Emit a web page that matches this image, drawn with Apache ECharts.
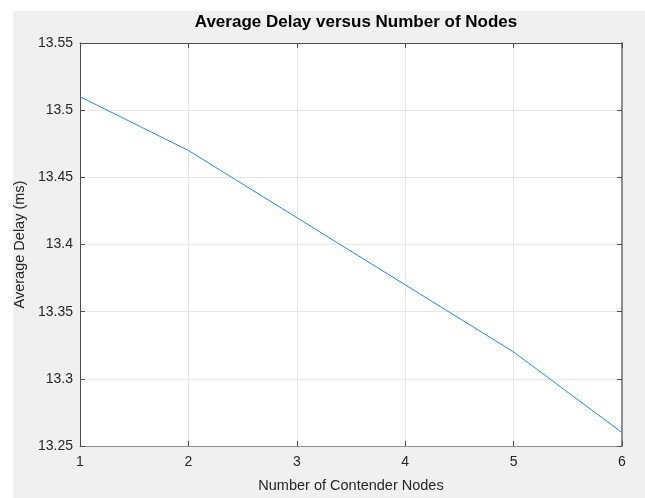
<!DOCTYPE html>
<html>
<head>
<meta charset="utf-8">
<script src="https://cdn.jsdelivr.net/npm/echarts@6/dist/echarts.min.js"></script>
<style>
  html, body { margin: 0; padding: 0; background: #ffffff; }
  #chart { width: 645px; height: 498px; }
</style>
</head>
<body>
<div id="chart"></div>
<script>
// Contender node counts and the measured average delay (ms)
const nodes = [1, 2, 3, 4, 5, 6];
const avgDelay = [13.51, 13.47, 13.42, 13.37, 13.32, 13.26];
const yTicks = [13.25, 13.3, 13.35, 13.4, 13.45, 13.5, 13.55];

const textColor = '#262626';
const fontFamily = 'Arial, "Liberation Sans", Helvetica, sans-serif';

const chart = echarts.init(document.getElementById('chart'), null, { renderer: 'canvas' });

const fmtY = v => String(parseFloat(v.toFixed(2)));

chart.setOption({
  backgroundColor: '#ffffff',
  animation: false,
  graphic: [{
    type: 'rect',
    z: -10,
    silent: true,
    shape: { x: 13, y: 11, width: 632, height: 487 },
    style: { fill: '#f0f0f0' }
  }],
  title: {
    text: 'Average Delay versus Number of Nodes',
    left: 351,
    top: 9,
    textAlign: 'center',
    textStyle: { fontFamily, fontSize: 17, fontWeight: 'bold', color: '#000000' }
  },
  grid: { left: 80, right: 23, top: 43, bottom: 44, backgroundColor: '#ffffff', show: true, borderWidth: 0 },
  xAxis: [{
    type: 'value',
    min: nodes[0],
    max: nodes[nodes.length - 1],
    interval: 1,
    name: 'Number of Contender Nodes',
    nameLocation: 'middle',
    nameGap: 32,
    nameTextStyle: { fontFamily, fontSize: 14.5, color: textColor },
    axisLine: { show: true, lineStyle: { color: '#8c8c8c', width: 1 } },
    axisTick: { show: true, inside: true, length: 5, lineStyle: { color: '#4d4d4d' } },
    axisLabel: { fontFamily, fontSize: 14, color: textColor, margin: 9 },
    splitLine: { show: true, lineStyle: { color: '#e6e6e6', width: 1 } }
  }, {
    type: 'value',
    position: 'top',
    min: nodes[0],
    max: nodes[nodes.length - 1],
    interval: 1,
    axisLine: { show: true, lineStyle: { color: '#4d4d4d', width: 1 } },
    axisTick: { show: true, inside: true, length: 5, lineStyle: { color: '#4d4d4d' } },
    axisLabel: { show: false },
    splitLine: { show: false }
  }],
  yAxis: [{
    type: 'value',
    min: yTicks[0],
    max: yTicks[yTicks.length - 1],
    interval: 0.05,
    name: 'Average Delay (ms)',
    nameLocation: 'middle',
    nameGap: 47,
    nameTextStyle: { fontFamily, fontSize: 14.5, color: textColor },
    axisLine: { show: true, lineStyle: { color: '#4d4d4d', width: 1 } },
    axisTick: { show: true, inside: true, length: 5, lineStyle: { color: '#4d4d4d' } },
    axisLabel: { fontFamily, fontSize: 14, color: textColor, margin: 7, formatter: fmtY },
    splitLine: { show: true, lineStyle: { color: '#e6e6e6', width: 1 } }
  }, {
    type: 'value',
    position: 'right',
    min: yTicks[0],
    max: yTicks[yTicks.length - 1],
    interval: 0.05,
    axisLine: { show: true, lineStyle: { color: '#8c8c8c', width: 2 } },
    axisTick: { show: true, inside: true, length: 5, lineStyle: { color: '#4d4d4d' } },
    axisLabel: { show: false },
    splitLine: { show: false }
  }],
  series: [{
    type: 'line',
    xAxisIndex: 0,
    yAxisIndex: 0,
    data: nodes.map((n, i) => [n, avgDelay[i]]),
    showSymbol: false,
    lineStyle: { color: '#2a8ad6', width: 1 },
    z: 5
  }]
});
</script>
</body>
</html>
